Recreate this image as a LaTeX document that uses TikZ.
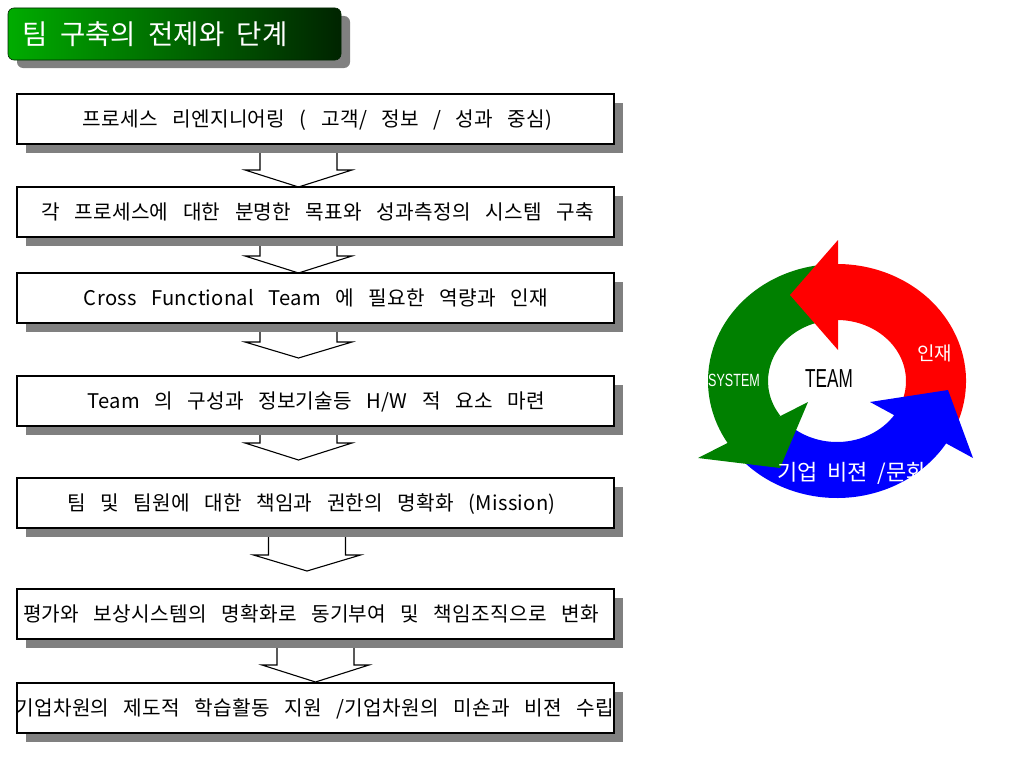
\documentclass[tikz,border=0pt]{standalone}
\usepackage{fontspec}
\setmainfont{Liberation Sans}
\newfontfamily\krbox[WordSpace=3,LetterSpace=1.5]{Noto Sans CJK KR}
\newfontfamily\krtitle[WordSpace=1.2]{Noto Sans CJK KR}
\newfontfamily\krring[WordSpace=2]{Noto Sans CJK KR}
\usetikzlibrary{shadows}
\definecolor{ringgreen}{RGB}{0,128,0}
\definecolor{ringred}{RGB}{255,0,0}
\definecolor{ringblue}{RGB}{0,0,255}
\definecolor{shadowgray}{RGB}{128,128,128}
\definecolor{titlelight}{RGB}{0,172,0}
\definecolor{titledark}{RGB}{0,36,0}
\newcommand\flowarrow[4]{%
  \draw[flowarrowstyle] ({#1-38.5},{#2}) -- ({#1-38.5},{#3}) -- ({#1-53.5},{#3}) -- ({#1},{#4})
    -- ({#1+53.5},{#3}) -- ({#1+38.5},{#3}) -- ({#1+38.5},{#2}) -- cycle;}
\begin{document}
\begin{tikzpicture}[x=1pt,y=-1pt,
  flowarrowstyle/.style={draw=black,line width=1.1pt,fill=white,line join=miter},
  stepbox/.style={draw=black,line width=1.3pt,fill=white,minimum width=597pt,minimum height=50pt,inner sep=0pt,
    drop shadow={shadow xshift=9pt,shadow yshift=-9pt,fill=shadowgray,opacity=1}},
  boxtext/.style={anchor=base,inner sep=0pt,font=\krbox\fontsize{20.2}{23}\selectfont},
  titlebox/.style={rounded corners=6pt,minimum width=333pt,minimum height=52pt,inner sep=0pt,
    left color=titlelight,right color=titledark,draw=titledark,line width=0.6pt,
    drop shadow={shadow xshift=9pt,shadow yshift=-8pt,fill=shadowgray,opacity=1}},
  ringtext/.style={inner sep=0pt,text=white},
]
\useasboundingbox (0,0) rectangle (1024,768);
\fill[white] (0,0) rectangle (1024,768);

% title
\node[titlebox] (title) at (174.5,34) {};
\node[anchor=base,inner sep=0pt,text=white,font=\krtitle\fontsize{27.5}{30}\selectfont] (titletext) at (155,44.5) {팀 구축의 전제와 단계};

% block arrows (drawn first so that the shadows cover their tops)
\flowarrow{298.5}{148}{170}{187}
\flowarrow{298.5}{241}{256}{273}
\flowarrow{298.5}{327}{342}{358}
\flowarrow{298.5}{430}{443}{460}
\flowarrow{307}{532}{555}{571}
\flowarrow{315.5}{643}{665}{682}

% boxes
\node[stepbox] (b1) at (315.5,119) {};
\node[stepbox] (b2) at (315.5,212) {};
\node[stepbox] (b3) at (315.5,298) {};
\node[stepbox] (b4) at (315.5,401) {};
\node[stepbox] (b5) at (315.5,503) {};
\node[stepbox] (b6) at (315.5,614) {};
\node[stepbox] (b7) at (315.5,708) {};

\node[boxtext] (t1) at (317.5,126.7) {프로세스 리엔지니어링 ( 고객/ 정보 / 성과 중심)};
\node[boxtext] (t2) at (317.5,219.7) {각 프로세스에 대한 분명한 목표와 성과측정의 시스템 구축};
\node[boxtext] (t3) at (316,305.7) {Cross Functional Team 에 필요한 역량과 인재};
\node[boxtext] (t4) at (316,408.7) {Team 의 구성과 정보기술등 H/W 적 요소 마련};
\node[boxtext] (t5) at (311.5,510.7) {팀 및 팀원에 대한 책임과 권한의 명확화 (Mission)};
\node[boxtext] (t6) at (311,621.7) {평가와 보상시스템의 명확화로 동기부여 및 책임조직으로 변화};
\node[boxtext] (t7) at (314.5,715.7) {기업차원의 제도적 학습활동 지원 /기업차원의 미숀과 비젼 수립};

% cycle
\begin{scope}[shift={(837,381)},yscale=-1]
  \fill[ringred] (-22:129 and 117) arc[start angle=-22,end angle=95,x radius=129,y radius=117]
    -- (95:69 and 61) arc[start angle=95,end angle=-22,x radius=69,y radius=61] -- cycle;
  \fill[ringgreen] (97:129 and 117) arc[start angle=97,end angle=215,x radius=129,y radius=117]
    -- (215:69 and 61) arc[start angle=215,end angle=97,x radius=69,y radius=61] -- cycle;
  \fill[ringblue] (220:129 and 117) arc[start angle=220,end angle=335,x radius=129,y radius=117]
    -- (335:69 and 61) arc[start angle=335,end angle=220,x radius=69,y radius=61] -- cycle;
  \fill[ringred] (1,141) -- (-47,86) -- (1,31) -- cycle;
  \fill[ringgreen] (-139,-77) -- (-57,-87) -- (-29,-21) -- cycle;
  \fill[ringblue] (136,-77) -- (111,-9) -- (33,-21) -- cycle;
\end{scope}

\node[anchor=base,inner sep=0pt,font=\fontsize{26}{28}\selectfont] (team) at (829,387) {\scalebox{0.66}[1]{TEAM}};
\node[ringtext,anchor=base,font=\fontsize{17.7}{20}\selectfont] (system) at (734,386) {\scalebox{0.71}[1]{SYSTEM}};
\node[ringtext,anchor=base,font=\krring\fontsize{19}{22}\selectfont] (injae) at (934.5,360.7) {인재};
\node[ringtext,anchor=base west,font=\krring\fontsize{22}{24}\selectfont] (vision) at (777,480.4) {기업 비젼 /문화};
\end{tikzpicture}
\end{document}
